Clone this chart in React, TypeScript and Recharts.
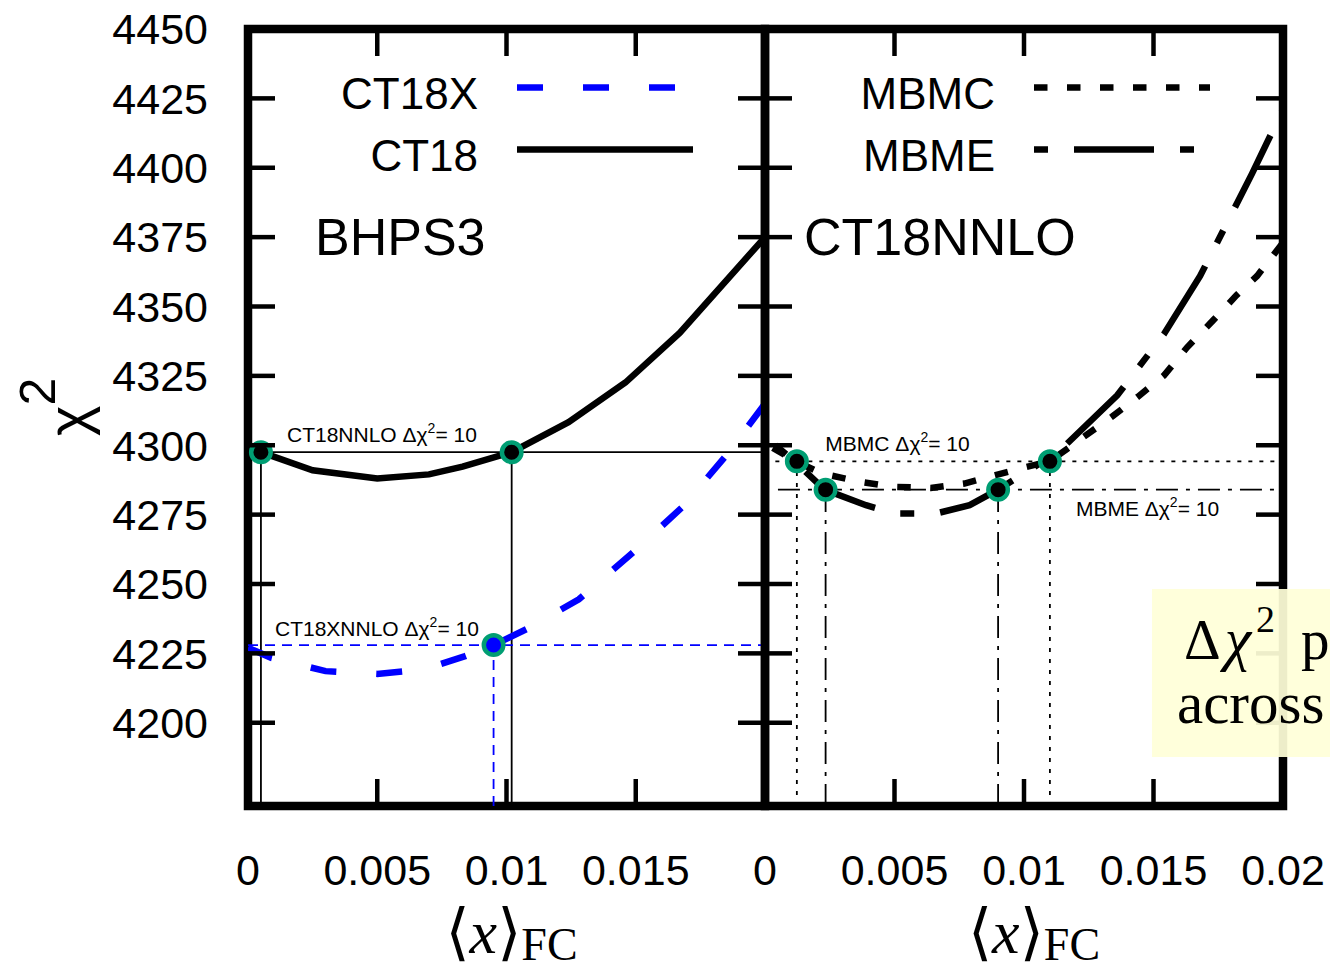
import React from "react";
import {
  LineChart,
  Line,
  XAxis,
  YAxis,
  ReferenceLine,
  ReferenceDot,
  ReferenceArea,
  Legend,
} from "recharts";

// chi^2 scans in <x>_FC: BHPS3 (left) and CT18NNLO (right)

const ct18xX = [0, 0.0009, 0.003, 0.005, 0.0068, 0.0084, 0.0095, 0.0109, 0.0128, 0.0149, 0.0168, 0.0185, 0.02];
const ct18xChi2 = [4227, 4223.4, 4218.6, 4217.6, 4219.2, 4224, 4228, 4234.3, 4244.5, 4261.4, 4277.7, 4296.3, 4315];

const ct18X = [0.0005, 0.0025, 0.005, 0.007, 0.0083, 0.0102, 0.0124, 0.0146, 0.0167, 0.02];
const ct18Chi2 = [4297.5, 4291, 4288, 4289.5, 4292.3, 4297.5, 4308.3, 4322.6, 4340.5, 4375];

const mbmcX = [0.0003, 0.0012, 0.0022, 0.0037, 0.005, 0.0064, 0.0077, 0.0089, 0.01, 0.011, 0.0123, 0.0134, 0.0144, 0.0154, 0.0163, 0.0173, 0.0182, 0.019, 0.02];
const mbmcChi2 = [4299, 4294.2, 4289.8, 4286.8, 4285, 4284.6, 4286.2, 4289.2, 4292, 4294.2, 4303, 4310.3, 4317.5, 4325.1, 4335.3, 4345, 4354, 4361, 4373];

const mbmeX = [0.0004, 0.0011, 0.0023, 0.0039, 0.005, 0.0066, 0.0079, 0.009, 0.0107, 0.0116, 0.0136, 0.0154, 0.0168, 0.0188, 0.02];
const mbmeChi2 = [4300, 4294.6, 4284, 4278.4, 4275.4, 4275.4, 4278.4, 4284, 4294, 4300, 4318, 4340, 4361, 4397.8, 4421];

// delta chi^2 = 10 levels and where each curve crosses them
const ct18Cut = 4297.5;
const ct18Hits = [0.0005, 0.0102];
const ct18xCut = 4228;
const ct18xHits = [0.0095];
const mbmcCut = 4294.2;
const mbmcHits = [0.00123, 0.011];
const mbmeCut = 4284;
const mbmeHits = [0.00234, 0.009];

const yTicks = [4200, 4225, 4250, 4275, 4300, 4325, 4350, 4375, 4400, 4425, 4450];
const leftXTicks = [0, 0.005, 0.01, 0.015];
const rightXTicks = [0, 0.005, 0.01, 0.015, 0.02];
const innerXTicks = [0.005, 0.01, 0.015];

const W = 1330;
const H = 965;
const TOP = 29;
const BOTTOM = 806;
const X_DOMAIN: [number, number] = [0, 0.02];
const Y_DOMAIN: [number, number] = [4170, 4450];
const SANS = '"Liberation Sans", Arial, sans-serif';
const SERIF = '"Liberation Serif", "DejaVu Serif", serif';
const GREEN = "#009e73";
const BLUE = "#0000ff";
const LINE_W = 6.5;
const TICK_LEN = 27;
const TICK_W = 4.5;
const X_LABEL_GAP = 48;
const Y_LABEL_GAP = 40;

type Series = { name: string; xs: number[]; ys: number[]; color: string; dash?: string };
type Cut = {
  key: string;
  chi2: number;
  hits: number[];
  from: number;
  color: string;
  dash?: string;
  dotFill: string;
  text: string;
  dx: number;
  dy: number;
};

const zip = (xs: number[], ys: number[]) => xs.map((x, i) => ({ x, chi2: ys[i] }));

const leftSeries: Series[] = [
  { name: "CT18X", xs: ct18xX, ys: ct18xChi2, color: BLUE, dash: "26 40" },
  { name: "CT18", xs: ct18X, ys: ct18Chi2, color: "#000" },
];
const rightSeries: Series[] = [
  { name: "MBMC", xs: mbmcX, ys: mbmcChi2, color: "#000", dash: "13.5 19.5" },
  { name: "MBME", xs: mbmeX, ys: mbmeChi2, color: "#000", dash: "14 26 80 26" },
];

const leftCuts: Cut[] = [
  { key: "ct18", chi2: ct18Cut, hits: ct18Hits, from: 0, color: "#000", dotFill: "#000", text: "CT18NNLO", dx: 39, dy: -10 },
  { key: "ct18x", chi2: ct18xCut, hits: ct18xHits, from: 0, color: BLUE, dash: "10 7", dotFill: BLUE, text: "CT18XNNLO", dx: 27, dy: -9.5 },
];
const rightCuts: Cut[] = [
  { key: "mbmc", chi2: mbmcCut, hits: mbmcHits, from: 0.0004, color: "#000", dash: "4 7", dotFill: "#000", text: "MBMC", dx: 50, dy: -10 },
  { key: "mbme", chi2: mbmeCut, hits: mbmeHits, from: 0.0005, color: "#000", dash: "22 8 4 8", dotFill: "#000", text: "MBME", dx: 298, dy: 26 },
];

const leftTick = (labels: boolean) => (p: any) => {
  const ax = p.x + (labels ? Y_LABEL_GAP : 0);
  return (
    <g>
      <line x1={ax} x2={ax + TICK_LEN} y1={p.y} y2={p.y} stroke="#000" strokeWidth={TICK_W} />
      {labels && (
        <text x={p.x} y={p.y} dy="0.355em" textAnchor="end" fontFamily={SANS} fontSize={43} fill="#000">
          {p.payload.value}
        </text>
      )}
    </g>
  );
};

const rightTick = (p: any) => (
  <line x1={p.x} x2={p.x - TICK_LEN} y1={p.y} y2={p.y} stroke="#000" strokeWidth={TICK_W} />
);

const topTick = (p: any) => (
  <line x1={p.x} x2={p.x} y1={p.y} y2={p.y + TICK_LEN} stroke="#000" strokeWidth={TICK_W} />
);

const bottomTick = (p: any) => (
  <g>
    <line
      x1={p.x}
      x2={p.x}
      y1={p.y - X_LABEL_GAP}
      y2={p.y - X_LABEL_GAP - TICK_LEN}
      stroke="#000"
      strokeWidth={TICK_W}
    />
    <text x={p.x} y={p.y + 31} textAnchor="middle" fontFamily={SANS} fontSize={43} fill="#000">
      {String(p.payload.value)}
    </text>
  </g>
);

const xTitle = (shift: number) => (p: any) => {
  const vb = p.viewBox;
  return (
    <text x={vb.x + vb.width / 2 + shift} y={vb.y + 147} textAnchor="middle" fontFamily={SERIF} fontSize={62} fill="#000">
      {"\u27E8"}
      <tspan fontStyle="italic">x</tspan>
      {"\u27E9"}
      <tspan fontSize={46} dy={7}>FC</tspan>
    </text>
  );
};

const yTitle = () => (
  <text transform="translate(88,436) rotate(-90)" fontFamily={SANS} fontSize={58} fill="#000">
    χ<tspan dy={-33} fontSize={50}>2</tspan>
  </text>
);

const cutLabel = (c: Cut) => (p: any) => {
  const vb = p.viewBox;
  return (
    <text x={vb.x + c.dx} y={vb.y + c.dy} fontFamily={SANS} fontSize={21} fill="#000">
      {c.text} Δχ<tspan dy={-9} fontSize={14}>2</tspan>
      <tspan dy={9}>= 10</tspan>
    </text>
  );
};

const legendContent = (rows: Series[], width: number) => () => (
  <svg width={width} height={200} style={{ display: "block" }}>
    {rows.map((s, i) => (
      <g key={s.name}>
        <text x={230} y={108.5 + i * 62} textAnchor="end" fontFamily={SANS} fontSize={44} fill="#000">
          {s.name}
        </text>
        <line
          x1={269}
          x2={445}
          y1={87.5 + i * 62}
          y2={87.5 + i * 62}
          stroke={s.color}
          strokeWidth={LINE_W}
          strokeDasharray={s.dash}
        />
      </g>
    ))}
  </svg>
);

type PanelProps = {
  width: number;
  left: number;
  panelWidth: number;
  yLabels: boolean;
  xTicks: number[];
  title: string;
  titleDx: number;
  titleShift: number;
  series: Series[];
  cuts: Cut[];
};

function Panel({ width, left, panelWidth, yLabels, xTicks, title, titleDx, titleShift, series, cuts }: PanelProps) {
  const leftAxisW = yLabels ? left : 20;
  const margin = {
    top: TOP - 20,
    bottom: H - BOTTOM - 60,
    left: left - leftAxisW,
    right: width - (left + panelWidth) - 20,
  };

  const guideLines = cuts.flatMap((c) => [
    <ReferenceLine
      key={`${c.key}-h`}
      segment={[
        { x: c.from, y: c.chi2 },
        { x: 0.02, y: c.chi2 },
      ]}
      stroke={c.color}
      strokeWidth={1.8}
      strokeDasharray={c.dash}
      label={cutLabel(c)}
    />,
    ...c.hits.map((h) => (
      <ReferenceLine
        key={`${c.key}-v-${h}`}
        segment={[
          { x: h, y: Y_DOMAIN[0] },
          { x: h, y: c.chi2 },
        ]}
        stroke={c.color}
        strokeWidth={1.8}
        strokeDasharray={c.dash}
      />
    )),
  ]);

  const hitDots = cuts.flatMap((c) =>
    c.hits.map((h) => (
      <ReferenceDot
        key={`${c.key}-d-${h}`}
        x={h}
        y={c.chi2}
        r={9.75}
        fill={c.dotFill}
        stroke={GREEN}
        strokeWidth={4.5}
      />
    ))
  );

  return (
    <LineChart width={width} height={H} margin={margin}>
      <XAxis
        type="number"
        dataKey="x"
        domain={X_DOMAIN}
        allowDataOverflow
        ticks={xTicks}
        interval={0}
        height={60}
        tickSize={0}
        tickMargin={X_LABEL_GAP}
        tickLine={false}
        axisLine={false}
        tick={bottomTick}
        label={xTitle(titleShift)}
      />
      <XAxis
        xAxisId="top"
        orientation="top"
        type="number"
        dataKey="x"
        domain={X_DOMAIN}
        allowDataOverflow
        ticks={innerXTicks}
        interval={0}
        height={20}
        tickSize={0}
        tickMargin={0}
        tickLine={false}
        axisLine={false}
        tick={topTick}
      />
      <YAxis
        type="number"
        domain={Y_DOMAIN}
        allowDataOverflow
        ticks={yTicks}
        interval={0}
        width={leftAxisW}
        tickSize={0}
        tickMargin={yLabels ? Y_LABEL_GAP : 0}
        tickLine={false}
        axisLine={false}
        tick={leftTick(yLabels)}
        label={yLabels ? yTitle : undefined}
      />
      <YAxis
        yAxisId="r"
        orientation="right"
        type="number"
        domain={Y_DOMAIN}
        allowDataOverflow
        ticks={yTicks}
        interval={0}
        width={20}
        tickSize={0}
        tickMargin={0}
        tickLine={false}
        axisLine={false}
        tick={rightTick}
      />
      <Legend
        verticalAlign="middle"
        align="center"
        content={legendContent(series, panelWidth)}
        wrapperStyle={{ left, top: 0, width: panelWidth, height: 200 }}
      />
      {guideLines}
      {series.map((s) => (
        <Line
          key={s.name}
          name={s.name}
          data={zip(s.xs, s.ys)}
          dataKey="chi2"
          type="linear"
          stroke={s.color}
          strokeWidth={LINE_W}
          strokeDasharray={s.dash}
          dot={false}
          activeDot={false}
          isAnimationActive={false}
        />
      ))}
      {hitDots}
      <ReferenceArea
        x1={X_DOMAIN[0]}
        x2={X_DOMAIN[1]}
        y1={Y_DOMAIN[0]}
        y2={Y_DOMAIN[1]}
        fill="none"
        stroke="#000"
        strokeWidth={8.5}
        ifOverflow="visible"
        label={(p: any) => (
          <text x={p.viewBox.x + titleDx} y={p.viewBox.y + 226} fontFamily={SANS} fontSize={52} fill="#000">
            {title}
          </text>
        )}
      />
    </LineChart>
  );
}

export default function App() {
  return (
    <div style={{ position: "absolute", left: 0, top: 0, width: W, height: H, overflow: "hidden", background: "#fff" }}>
      <div style={{ position: "absolute", left: 0, top: 0 }}>
        <Panel
          width={800}
          left={248}
          panelWidth={517}
          yLabels
          xTicks={leftXTicks}
          title="BHPS3"
          titleDx={67}
          titleShift={5}
          series={leftSeries}
          cuts={leftCuts}
        />
      </div>
      <div style={{ position: "absolute", left: 0, top: 0 }}>
        <Panel
          width={W}
          left={765}
          panelWidth={518}
          yLabels={false}
          xTicks={rightXTicks}
          title="CT18NNLO"
          titleDx={39}
          titleShift={10}
          series={rightSeries}
          cuts={rightCuts}
        />
      </div>
      <svg width={W} height={H} style={{ position: "absolute", left: 0, top: 0, pointerEvents: "none" }}>
        <rect x={1152} y={589} width={200} height={168} fill="#ffffd8" fillOpacity={0.93} />
        <text x={1184} y={659} fontFamily={SERIF} fontSize={57} fill="#000">
          Δ<tspan fontStyle="italic" fontSize={60} dx={4}>χ</tspan>
          <tspan fontSize={38} dy={-27} dx={5}>2</tspan>
          <tspan dy={27} dx={26}>p</tspan>
        </text>
        <text x={1177} y={723} fontFamily={SERIF} fontSize={59} fill="#000">
          across
        </text>
      </svg>
    </div>
  );
}
